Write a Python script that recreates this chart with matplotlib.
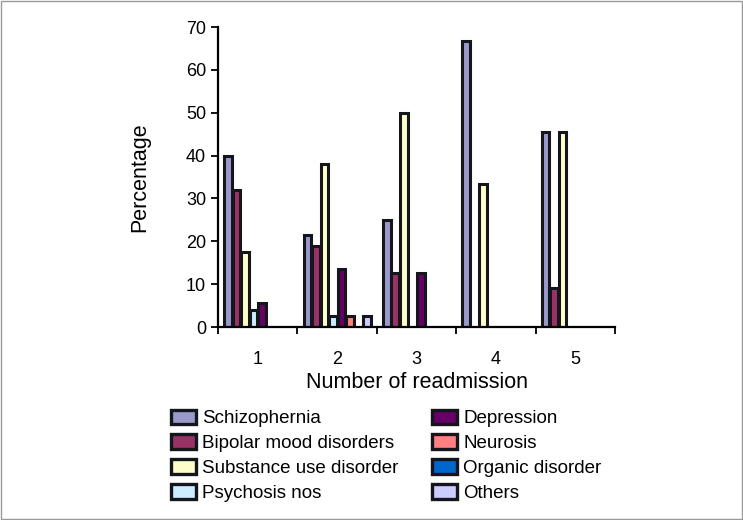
import matplotlib.pyplot as plt
import matplotlib.patches as mpatches
import numpy as np

plt.rcParams['font.family'] = ['Liberation Sans', 'DejaVu Sans']

# Number of readmission
groups = ['1', '2', '3', '4', '5']

series = ['Schizophernia', 'Bipolar mood disorders', 'Substance use disorder',
          'Psychosis nos', 'Depression', 'Neurosis', 'Organic disorder', 'Others']
colors = ['#9999cc', '#993366', '#ffffcc', '#ccecff',
          '#660066', '#ff8080', '#0066cc', '#ccccff']

schizophernia = [40, 21.5, 25, 66.7, 45.5]
bipolar = [32, 19, 12.5, 0, 9]
substance = [17.5, 38, 50, 33.3, 45.5]
psychosis = [4, 2.5, 0, 0, 0]
depression = [5.5, 13.5, 12.5, 0, 0]
neurosis = [0, 2.5, 0, 0, 0]
organic = [0, 0, 0, 0, 0]
others = [0, 2.5, 0, 0, 0]
values = [schizophernia, bipolar, substance, psychosis,
          depression, neurosis, organic, others]

fig = plt.figure(figsize=(7.43, 5.2), dpi=100)
ax = fig.add_axes([218/743, 1 - 327/520, (615-218)/743, 300/520])

x = np.arange(len(groups))
n = len(series)
w = 1 / (n + 1.34)
for i, (vals, c) in enumerate(zip(values, colors)):
    pos = x - 0.5 + 0.67 * w + i * w + w / 2
    v = np.array(vals, dtype=float)
    mask = v > 0
    ax.bar(pos[mask], v[mask], width=w * 0.9, color=c, edgecolor='#15151c',
           linewidth=2.2)

ax.set_xlim(-0.5, len(groups) - 0.5)
ax.set_ylim(0, 70)
ax.set_yticks(range(0, 71, 10))
ax.set_xticks(x)
ax.set_xticklabels(groups)
ax.set_xticks(np.arange(-0.5, len(groups)), minor=True)
ax.tick_params(axis='x', which='major', length=0, pad=17, labelsize=13)
ax.tick_params(axis='x', which='minor', length=5, width=1.3, direction='out')
ax.tick_params(axis='y', length=5, width=1.3, direction='out', labelsize=13)
for s in ['top', 'right']:
    ax.spines[s].set_visible(False)
for s in ['left', 'bottom']:
    ax.spines[s].set_linewidth(1.6)
ax.set_ylabel('Percentage', fontsize=15.5, labelpad=26)
ax.set_xlabel('Number of readmission', fontsize=15.5, labelpad=3)

handles = [mpatches.Patch(facecolor=c, edgecolor='#15151c', linewidth=2.4, label=s)
           for s, c in zip(series, colors)]
fig.legend(handles=handles, ncol=2, loc='upper left',
           bbox_to_anchor=(163/743, 1 - 402/520), frameon=False,
           fontsize=13.5, handlelength=1.35, handleheight=0.85,
           handletextpad=0.35, labelspacing=0.36, columnspacing=1.75,
           borderaxespad=0)

fig.patches.append(mpatches.Rectangle((0.001, 0.001), 0.997, 0.997,
                                      transform=fig.transFigure, fill=False,
                                      edgecolor='#999999', linewidth=1))

fig.savefig('out.png', dpi=100)
